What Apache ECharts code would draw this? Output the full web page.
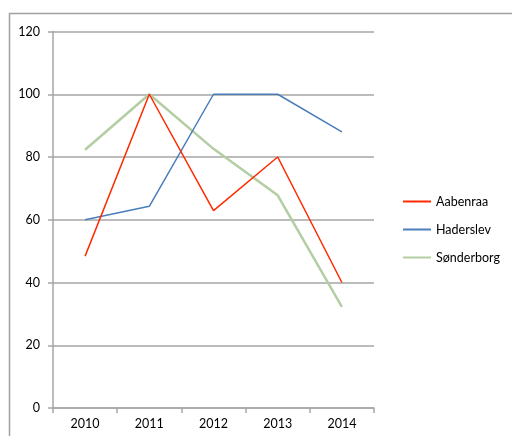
<!DOCTYPE html>
<html>
<head>
<meta charset="utf-8">
<script src="https://cdn.jsdelivr.net/npm/echarts@6/dist/echarts.min.js"></script>
<style>
  html, body { margin: 0; padding: 0; background: #fff; }
  #chart { width: 512px; height: 436px; }
</style>
</head>
<body>
<div id="chart"></div>
<script>
// Years on the category axis
const years = ['2010', '2011', '2012', '2013', '2014'];

// Index values per municipality
const aabenraa = [48.4, 100, 62.9, 80, 40];
const haderslev = [60, 64.3, 100, 100, 88];
const sonderborg = [82.3, 100, 82.6, 67.8, 32.2];

const seriesNames = ['Aabenraa', 'Haderslev', 'Sønderborg'];
const seriesData = [aabenraa, haderslev, sonderborg];
const seriesColors = ['#ff2a00', '#4a7ebb', '#b3cea3'];
const seriesWidths = [1.5, 1.5, 2.5];

const font = 'Lato, "Open Sans", sans-serif';
const axisGrey = '#a6a6a6';

const chart = echarts.init(document.getElementById('chart'), null, { renderer: 'canvas' });

chart.setOption({
  animation: false,
  backgroundColor: '#ffffff',
  graphic: [{
    type: 'rect',
    shape: { x: 9.5, y: 13.5, width: 600, height: 500 },
    style: { fill: 'none', stroke: '#a0a0a0', lineWidth: 1.5 },
    silent: true,
    z: 0
  }],
  grid: { left: 53, top: 31.5, right: 138, bottom: 28, containLabel: false },
  legend: {
    orient: 'vertical',
    left: 398,
    top: 189.5,
    itemWidth: 28,
    itemHeight: 2,
    itemGap: 14,
    icon: 'rect',
    data: seriesNames,
    textStyle: { fontFamily: font, fontSize: 12.5, color: '#000', lineHeight: 14 }
  },
  xAxis: {
    type: 'category',
    data: years,
    boundaryGap: true,
    axisLine: { lineStyle: { color: axisGrey, width: 1.5 } },
    axisTick: { show: true, alignWithLabel: false, length: 5, lineStyle: { color: axisGrey, width: 1.5 } },
    axisLabel: { fontFamily: font, fontSize: 12.5, color: '#000', margin: 9 },
    splitLine: { show: false }
  },
  yAxis: {
    type: 'value',
    min: 0,
    max: 120,
    interval: 20,
    axisLine: { show: true, lineStyle: { color: axisGrey, width: 1.5 } },
    axisTick: { show: true, length: 5, lineStyle: { color: axisGrey, width: 1.5 } },
    axisLabel: { fontFamily: font, fontSize: 12.5, color: '#000', margin: 13 },
    splitLine: { show: true, lineStyle: { color: axisGrey, width: 1.5 } }
  },
  series: seriesNames.map((name, i) => ({
    name: name,
    type: 'line',
    data: seriesData[i],
    showSymbol: false,
    symbol: 'none',
    color: seriesColors[i],
    lineStyle: { color: seriesColors[i], width: seriesWidths[i] },
    z: 3 + (2 - i)
  }))
});
</script>
</body>
</html>
